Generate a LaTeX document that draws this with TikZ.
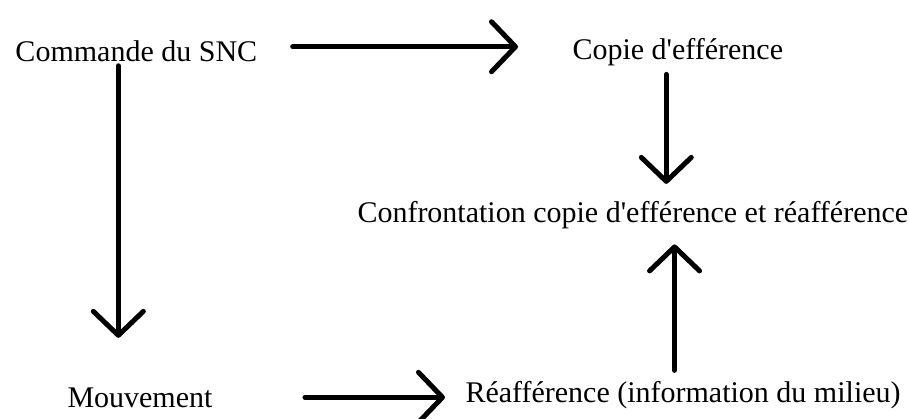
\documentclass[tikz,border=0pt]{standalone}
\usepackage{fontspec}
\setmainfont{Liberation Serif}[Ligatures=TeXOff]
\usetikzlibrary{arrows.meta}

\begin{document}
\begin{tikzpicture}
[->,>={Straight Barb[length=12pt,width=25pt,round]},line width=2.5pt,line cap=round,x=0.5pt,y=-0.5pt]
  \tikzstyle{every node}=[inner sep=0pt,anchor=base west,font=\fontsize{15}{18}\selectfont]
  \useasboundingbox (0,0) rectangle (909,418);

  \node (cmd)   at (13,61)   {Commande du SNC};
  \node (copie) at (570,59)  {Copie d'efférence};
  \node (conf)  at (355,222) {Confrontation copie d'efférence et réafférence};
  \node (mouv)  at (65,407)  {Mouvement};
  \node (reaff) at (463,402) {Réafférence (information du milieu)};

  \draw[shorten <=16.5pt,shorten >=26pt] ([yshift=2pt]cmd.east) -- ([yshift=2pt]cmd.east -| copie.west);
  \draw[shorten <=1pt,shorten >=23.5pt] ([xshift=-9pt]cmd.south) -- ([xshift=-9pt]cmd.south |- mouv.north);
  \draw[shorten <=3.25pt,shorten >=7.25pt] ([xshift=-5.75pt]copie.south) -- ([xshift=-5.75pt]copie.south |- conf.north);
  \draw[shorten <=4pt,shorten >=6.75pt] ([xshift=-4.25pt]reaff.north) -- ([xshift=-4.25pt]reaff.north |- conf.south);
  \draw[shorten <=45pt,shorten >=9pt] (mouv.east) -- (mouv.east -| reaff.west);
\end{tikzpicture}
\end{document}
